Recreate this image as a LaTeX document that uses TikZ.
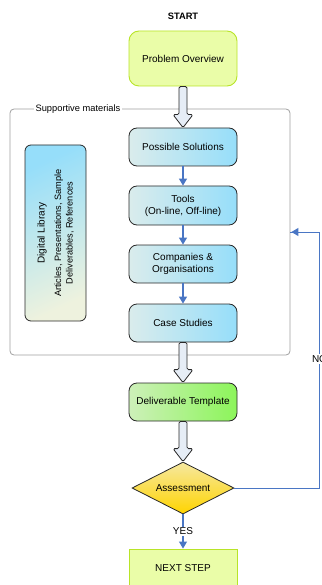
\documentclass[tikz,border=0pt]{standalone}
\usepackage{fontspec}
\setmainfont{Liberation Sans}
\usetikzlibrary{shapes.geometric,arrows.meta,calc}
\definecolor{lgreen}{RGB}{234,253,168}
\definecolor{lgreenb}{RGB}{184,228,40}
\definecolor{bblue}{RGB}{150,222,250}
\definecolor{bcream}{RGB}{218,236,236}
\definecolor{dlcream}{RGB}{238,242,222}
\definecolor{dgreen}{RGB}{140,245,90}
\definecolor{dgreenl}{RGB}{205,240,185}
\definecolor{gold}{RGB}{255,212,0}
\definecolor{goldl}{RGB}{246,232,160}
\definecolor{arrblue}{RGB}{74,118,196}
\definecolor{arrfill}{RGB}{230,237,246}
\definecolor{boxline}{RGB}{40,40,40}
\tikzset{
  stepbox/.style={draw=boxline, line width=0.8pt, rounded corners=8pt, minimum width=108pt, minimum height=38pt, inner sep=1pt, align=center, font=\fontsize{10}{12}\selectfont, left color=bcream, right color=bblue},
  startbox/.style={draw=lgreenb, line width=0.9pt, fill=lgreen, rounded corners=10pt, minimum width=108pt, minimum height=55pt, font=\fontsize{10}{12}\selectfont},
  endbox/.style={draw=lgreenb, line width=0.9pt, fill=lgreen, minimum width=108pt, minimum height=38pt, font=\fontsize{10}{12}\selectfont},
  thinarrow/.style={draw=arrblue, line width=1.1pt, -{Triangle[width=8pt,length=7pt]}},
  loopline/.style={draw=arrblue, line width=1pt},
  bigarrow/.style={draw=boxline, line width=0.8pt, fill=arrfill, rounded corners=1.5pt, line join=round},
  lbl/.style={fill=white, inner sep=1pt, font=\fontsize{10}{12}\selectfont},
}
\newcommand{\bigarr}[2]{%
  \draw[bigarrow] let \p1=(#1.south), \p2=(#2.north) in
   (\x1-4pt,\y1) -- (\x1-4pt,\y2+13pt) -- (\x1-10pt,\y2+13pt) -- (\x1,\y2) --
   (\x1+10pt,\y2+13pt) -- (\x1+4pt,\y2+13pt) -- (\x1+4pt,\y1) -- cycle;}
\begin{document}
\begin{tikzpicture}[x=1pt,y=-1pt]
\useasboundingbox (0,0) rectangle (321,585);
% container
\node[draw={rgb,255:red,160;green,160;blue,160}, line width=0.8pt, rounded corners=4pt, minimum width=280pt, minimum height=246pt, inner sep=0] (sup) at (150,232) {};
\node[fill=white, inner sep=2pt, font=\fontsize{9.3}{11}\selectfont] (suplbl) at (78,109) {Supportive materials};
% title
\node[font=\fontsize{9.3}{11}\selectfont\bfseries] (start) at (183,16) {START};
% nodes
\node[startbox] (po) at (183,58.5) {Problem Overview};
\node[stepbox] (ps) at (183,147) {Possible Solutions};
\node[stepbox, minimum height=39pt] (tools) at (183,205.5) {Tools\\(On-line, Off-line)};
\node[stepbox] (comp) at (183,264) {Companies \&\\Organisations};
\node[stepbox] (cs) at (183,323) {Case Studies};
\node[draw=boxline, line width=0.8pt, rounded corners=6pt, minimum width=61pt, minimum height=176pt, inner sep=0, top color=bblue, middle color=bblue!80!dlcream, bottom color=dlcream, shading angle=25] (dl) at (55.5,233) {};
\node[rotate=90, align=center, inner sep=0, font=\fontsize{9.2}{11.5}\selectfont] (dltext) at (dl.center)
  {{\fontsize{10}{12}\selectfont Digital Library}\\[5pt]Articles, Presentations, Sample\\Deliverables, References};
\node[stepbox, left color=dgreenl, right color=dgreen] (dt) at (183,402) {Deliverable Template};
\node[diamond, draw=boxline, line width=0.8pt, aspect=2, inner sep=0, minimum width=102pt, minimum height=52pt, font=\fontsize{10}{12}\selectfont, top color=goldl, bottom color=gold] (as) at (183,488) {Assessment};
\node[endbox] (next) at (183,568) {NEXT STEP};
% thin arrows
\draw[thinarrow] (ps) -- (tools);
\draw[thinarrow] (tools) -- (comp);
\draw[thinarrow] (comp) -- (cs);
\draw[thinarrow] (as.south) -- node[lbl] (yes) {YES} (next.north);
% NO loop
\coordinate (c1) at (319,488);
\coordinate (c2) at (319,232);
\coordinate (c3) at (sup.east |- c2);
\draw[loopline] (as.east) -- (c1) -- (c2) -- (c3);
\draw[thinarrow, line width=1pt] (c2) -- ($(c3)+(1,0)$);
\node[lbl] (no) at (319.5,359) {NO};
% big arrows
\bigarr{po}{ps}
\bigarr{cs}{dt}
\bigarr{dt}{as}
\end{tikzpicture}
\end{document}
